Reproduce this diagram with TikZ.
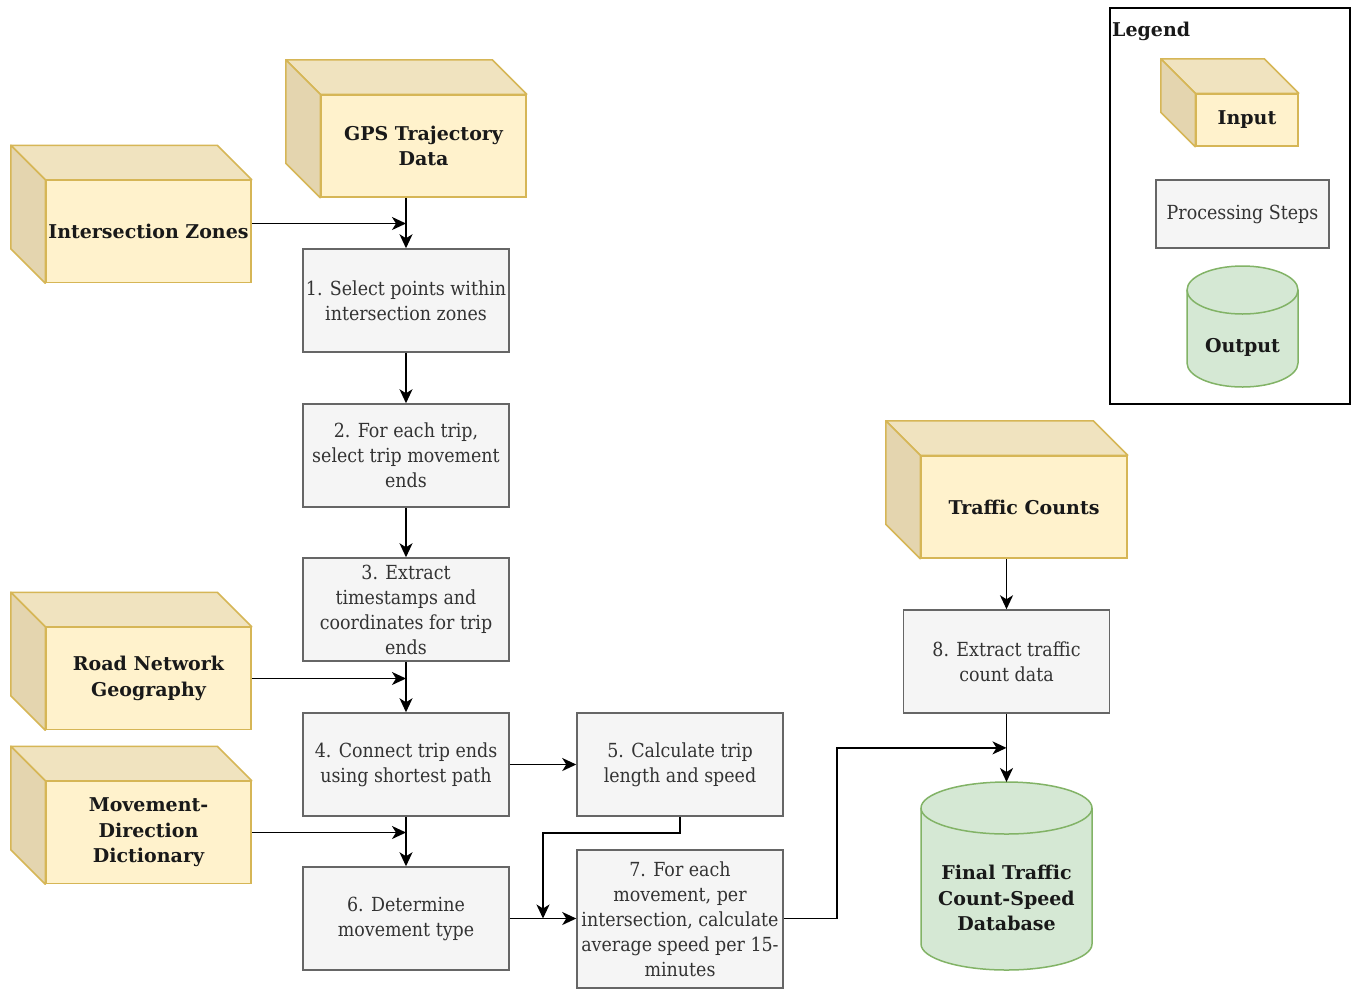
\documentclass[tikz,border=0pt]{standalone}
\usepackage{fontspec}
\setmainfont{DejaVu Serif Condensed}
\newfontfamily\boldfam{DejaVu Serif}
\usetikzlibrary{arrows.meta,calc}
\definecolor{inF}{HTML}{FFF2CC}
\definecolor{inD}{HTML}{D6B656}
\definecolor{inT}{HTML}{F0E3BF}
\definecolor{inS}{HTML}{E4D5AF}
\definecolor{prF}{HTML}{F5F5F5}
\definecolor{prD}{HTML}{666666}
\definecolor{prT}{HTML}{333333}
\definecolor{ouF}{HTML}{D5E8D4}
\definecolor{ouD}{HTML}{82B366}
\tikzset{
  x=1pt,y=1pt,
  boldtxt/.style={font=\boldfam\bfseries\fontsize{19}{25.5}\selectfont, text=black!90},
  inface/.style={boldtxt, draw=inD, fill=inF, line width=1.5pt, minimum width=205pt, minimum height=102pt,
    align=center, inner sep=0pt},
  topface/.style={draw=inD, fill=inT, line width=1.5pt, line join=round},
  sideface/.style={draw=inD, fill=inS, line width=1.5pt, line join=round},
  proc/.style={draw=prD, fill=prF, line width=1.5pt, minimum width=206pt, minimum height=103pt,
    text=prT, font=\fontsize{19.4}{25}\selectfont, align=center, inner sep=0pt},
  cyl/.style={draw=ouD, fill=ouF, line width=1.5pt},
  cyltext/.style={boldtxt, align=center},
  arr/.style={draw=black, line width=1.7pt, -{Stealth[length=14pt,width=13pt,inset=4pt]}},
}
\newcommand\boxfaces[2]{%
  \filldraw[topface] (#1.north west) -- ++(-#2,#2) -- ($(#1.north east)+(-#2,#2)$) -- (#1.north east) -- cycle;
  \filldraw[sideface] (#1.north west) -- ++(-#2,#2) -- ($(#1.south west)+(-#2,#2)$) -- (#1.south west) -- cycle;
}
\begin{document}
\begin{tikzpicture}
\useasboundingbox (0,0) rectangle (1356,-989);
\fill[white] (0,0) rectangle (1356,-989);

% inputs
\node[inface] (gps) at (423.5,-146) {GPS Trajectory\\Data};
\boxfaces{gps}{34.5}
\node[inface] (iz) at (148.5,-231.5) {Intersection Zones};
\boxfaces{iz}{34.5}
\node[inface] (rn) at (148.5,-678.5) {Road Network\\Geography};
\boxfaces{rn}{34.5}
\node[inface] (md) at (148.5,-832.5) {Movement-\\Direction\\Dictionary};
\boxfaces{md}{34.5}
\node[inface, minimum width=206pt] (tc) at (1024,-507) {Traffic Counts};
\boxfaces{tc}{34.5}

% processing steps
\node[proc] (s1) at (406,-300.5) {1. Select points within\\intersection zones};
\node[proc] (s2) at (406,-455.5) {2. For each trip,\\select trip movement\\ends};
\node[proc] (s3) at (406,-609.5) {3. Extract\\timestamps and\\coordinates for trip\\ends};
\node[proc] (s4) at (406,-764.5) {4. Connect trip ends\\using shortest path};
\node[proc] (s5) at (680,-764.5) {5. Calculate trip\\length and speed};
\node[proc] (s6) at (406,-918.5) {6. Determine\\movement type};
\node[proc, minimum height=138pt] (s7) at (680,-919) {7. For each\\movement, per\\intersection, calculate\\average speed per 15-\\minutes};
\node[proc] (s8) at (1006.5,-661.5) {8. Extract traffic\\count data};

% output database
\draw[cyl] (921,-808) -- (921,-944) arc[start angle=180,end angle=360,x radius=85.5,y radius=26]
  -- (1092,-808) arc[start angle=0,end angle=180,x radius=85.5,y radius=26] -- cycle;
\draw[cyl, fill=none] (921,-808) arc[start angle=180,end angle=360,x radius=85.5,y radius=26];
\node[cyltext] (db) at (1006.5,-898) {Final Traffic\\Count-Speed\\Database};
\coordinate (dbtop) at (1006.5,-782);

% connectors
\draw[arr] (gps.south -| s1.north) -- (s1.north);
\draw[arr] ([yshift=8pt]iz.east) -- ([yshift=8pt]iz.east -| s1.north);
\draw[arr] (s1.south) -- (s2.north);
\draw[arr] (s2.south) -- (s3.north);
\draw[arr] (s3.south) -- (s4.north);
\draw[arr] (rn.east) -- (rn.east -| s4.north);
\draw[arr] (s4.east) -- (s5.west);
\draw[arr] (s4.south) -- (s6.north);
\draw[arr] (md.east) -- (md.east -| s6.north);
\draw[arr] (s6.east) -- (s7.west |- s6.east);
\coordinate (m67) at ($(s6.east)!0.5!(s7.west |- s6.east)$);
\draw[arr] (s5.south) -- ++(0,-16) -| (m67);
\draw[arr] (tc.south -| s8.north) -- (s8.north);
\coordinate (j8) at ($(s8.south)!0.5!(dbtop)$);
\draw[arr] (s7.east |- s6.east) -- ++(53,0) |- (j8);
\draw[arr] (s8.south) -- (dbtop);

% legend
\draw[line width=1.5pt] (1110,-8) rectangle (1350,-404);
\node[boldtxt, anchor=north west, inner sep=0pt] (leg) at (1112,-22) {Legend};
\node[inface, minimum width=102pt, minimum height=52pt] (lin) at (1247,-120) {Input};
\boxfaces{lin}{34.5}
\node[proc, minimum width=173pt, minimum height=68pt] (lpr) at (1242.5,-214) {Processing Steps};
\draw[cyl] (1187,-290) -- (1187,-363) arc[start angle=180,end angle=360,x radius=55.5,y radius=24]
  -- (1298,-290) arc[start angle=0,end angle=180,x radius=55.5,y radius=24] -- cycle;
\draw[cyl, fill=none] (1187,-290) arc[start angle=180,end angle=360,x radius=55.5,y radius=24];
\node[cyltext] (lout) at (1242.5,-347) {Output};
\end{tikzpicture}
\end{document}
